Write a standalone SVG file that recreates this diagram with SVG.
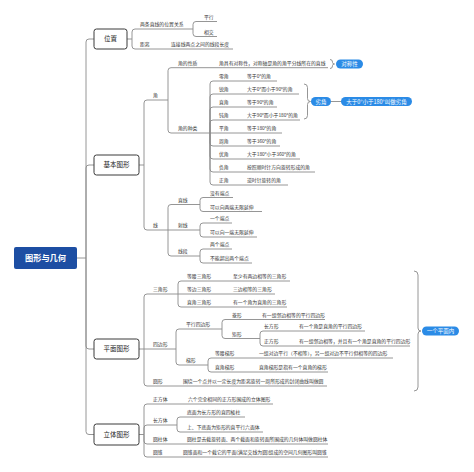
<svg xmlns="http://www.w3.org/2000/svg" width="474" height="472" viewBox="0 0 474 472">
<style>
.c{fill:none;stroke:#8a8a8a;stroke-width:0.9}
.t{font-family:"Noto Sans CJK SC",sans-serif;font-size:4.85px;fill:#333}
.b{fill:#fff;stroke:#3a3a3a;stroke-width:1}
.bt{font-family:"Noto Sans CJK SC",sans-serif;font-size:6.5px;fill:#222;text-anchor:middle}
.p{fill:#2b8be6}
.pt{font-family:"Noto Sans CJK SC",sans-serif;font-size:5.5px;fill:#fff;text-anchor:middle}
</style>
<rect width="474" height="472" fill="#fff"/>
<g id="connectors">
<path class="c" d="M77,258 H86 M86,258 V42 Q86,39 89,39 H94 M86,258 V168 Q86,165 89,165 H94 M86,258 V346 Q86,349 89,349 H94 M86,258 V431.5 Q86,434.5 89,434.5 H94"/>
<path class="c" d="M127,39 H132 M132,39 V32 Q132,29 135,29 H193 M132,39 V46 Q132,49 135,49 H233 M193,29 V24.5 Q193,21.5 196,21.5 H217 M193,29 V33.5 Q193,36.5 196,36.5 H217"/>
<path class="c" d="M139,165 H144 M144,165 V103 Q144,100 147,100 H168 M144,165 V227 Q144,230 147,230 H168 M168,100 V70.7 Q168,67.7 171,67.7 H328 M168,100 V130 Q168,133 171,133 H210"/>
<path class="c" d="M210,133 V84 Q210,81 213,81 H277 M210,133 V97 Q210,94 213,94 H299 M210,133 V110 Q210,107 213,107 H277 M210,133 V123 Q210,120 213,120 H300 M210,133 H282 M210,133 V143 Q210,146 213,146 H280 M210,133 V156 Q210,159 213,159 H300 M210,133 V169 Q210,172 213,172 H315 M210,133 V182 Q210,185 213,185 H288"/>
<path class="c" d="M168,230 V207.5 Q168,204.5 171,204.5 H200 M168,230 H200 M168,230 V253 Q168,256 171,256 H200 M200,204.5 V200.5 Q200,197.5 203,197.5 H233 M200,204.5 V208.5 Q200,211.5 203,211.5 H262 M200,230 V226 Q200,223 203,223 H232 M200,230 V234 Q200,237 203,237 H257 M200,256 V252 Q200,249 203,249 H232 M200,256 V260 Q200,263 203,263 H252"/>
<path class="c" d="M139,349 H144 M144,349 V297 Q144,294 147,294 H178 M144,349 H176 M144,349 V383 Q144,386 147,386 H327 M178,294 V284 Q178,281 181,281 H290 M178,294 H275 M178,294 V304 Q178,307 181,307 H287"/>
<path class="c" d="M176,349 V332 Q176,329 179,329 H222 M176,349 V362 Q176,365 179,365 H208 M222,329 V322.5 Q222,319.5 225,319.5 H325 M222,329 V335.5 Q222,338.5 225,338.5 H260 M260,338.5 V334 Q260,331 263,331 H365 M260,338.5 V343 Q260,346 263,346 H410 M208,365 V361 Q208,358 211,358 H393 M208,365 V369 Q208,372 211,372 H328"/>
<path class="c" d="M139,434.5 H144 M144,434.5 V407 Q144,404 147,404 H273 M144,434.5 V428 Q144,425 147,425 H177 M144,434.5 V441 Q144,444 147,444 H328 M144,434.5 V454 Q144,457 147,457 H328 M177,425 V420 Q177,417 180,417 H245 M177,425 V429 Q177,432 180,432 H263"/>
<path class="c" d="M330,59.5 Q332.5,59.5 332.5,62 V62.5 Q332.5,64 334.5,64 Q332.5,64 332.5,65.5 V66 Q332.5,68.5 330,68.5"/>
<path class="c" d="M304,84 Q307.5,84 307.5,87.5 V98.5 Q307.5,101.5 310.5,101.5 Q307.5,101.5 307.5,104.5 V115.5 Q307.5,119 304,119 M331,101.5 H341"/>
<path class="c" d="M414,271 Q418,271 418,275 V328 Q418,331 421,331 Q418,331 418,334 V387 Q418,391 414,391"/>
</g>
<g id="root"><rect x="14" y="247" width="63" height="22" rx="2" fill="#1d4ea3"/><text x="45.5" y="261" font-family="Noto Sans CJK SC,sans-serif" font-size="8.2" font-weight="bold" fill="#fff" text-anchor="middle">图形与几何</text></g>
<g id="n-weizhi"><rect class="b" x="94" y="29" width="33" height="20" rx="2.5"/><text class="bt" x="110.5" y="41.3">位置</text></g>
<g id="n-jiben"><rect class="b" x="94" y="155" width="45" height="20" rx="2.5"/><text class="bt" x="116.5" y="167.3">基本图形</text></g>
<g id="n-pingmian"><rect class="b" x="94" y="339" width="45" height="20" rx="2.5"/><text class="bt" x="116.5" y="351.3">平面图形</text></g>
<g id="n-liti"><rect class="b" x="94" y="424" width="45" height="21" rx="2.5"/><text class="bt" x="116.5" y="436.8">立体图形</text></g>
<g id="n-weizhi-sub" class="t">
<text x="140" y="26.4">两条直线的位置关系</text>
<text x="204" y="18.9">平行</text>
<text x="204" y="33.9">相交</text>
<text x="140" y="46.4">距离</text>
<text x="171" y="46.4">连接线两点之间的线段长度</text>
</g>
<g id="n-jiao" class="t">
<text x="153" y="97.4">角</text>
<text x="178" y="65.1">角的性质</text>
<text x="219" y="65.1">角具有对称性，对称轴是角的角平分线所在的直线</text>
<text x="178" y="130.4">角的种类</text>
<text x="219" y="78.4">零角</text><text x="247" y="78.4">等于0°的角</text>
<text x="219" y="91.4">锐角</text><text x="247" y="91.4">大于0°而小于90°的角</text>
<text x="219" y="104.4">直角</text><text x="247" y="104.4">等于90°的角</text>
<text x="219" y="117.4">钝角</text><text x="247" y="117.4">大于90°而小于180°的角</text>
<text x="219" y="130.4">平角</text><text x="247" y="130.4">等于180°的角</text>
<text x="219" y="143.4">周角</text><text x="247" y="143.4">等于360°的角</text>
<text x="219" y="156.4">优角</text><text x="247" y="156.4">大于180°小于360°的角</text>
<text x="219" y="169.4">负角</text><text x="247" y="169.4">按照顺时针方向旋转形成的角</text>
<text x="219" y="182.4">正角</text><text x="247" y="182.4">逆时针旋转的角</text>
</g>
<g id="n-duichen"><rect class="p" x="336" y="59.5" width="27" height="9" rx="4.5"/><text class="pt" x="349.5" y="66">对称性</text></g>
<g id="n-liejiao"><rect class="p" x="311" y="97" width="20" height="9" rx="4.5"/><text class="pt" x="321" y="103.5">劣角</text></g>
<g id="n-liejiao-def"><rect class="p" x="341" y="97" width="71" height="9" rx="4.5"/><text class="pt" x="376.5" y="103.5">大于0°小于180°叫做劣角</text></g>
<g id="n-xian" class="t">
<text x="153" y="227.4">线</text>
<text x="178" y="201.9">直线</text>
<text x="210" y="194.9">没有端点</text>
<text x="210" y="208.9">可以向两端无限延伸</text>
<text x="178" y="227.4">射线</text>
<text x="210" y="220.4">一个端点</text>
<text x="210" y="234.4">可以向一端无限延伸</text>
<text x="178" y="253.4">线段</text>
<text x="210" y="246.4">两个端点</text>
<text x="210" y="260.4">不能超出两个端点</text>
</g>
<g id="n-sanjiao" class="t">
<text x="153" y="291.4">三角形</text>
<text x="187" y="278.4">等腰三角形</text><text x="233" y="278.4">至少有两边相等的三角形</text>
<text x="187" y="291.4">等边三角形</text><text x="233" y="291.4">三边相等的三角形</text>
<text x="187" y="304.4">直角三角形</text><text x="233" y="304.4">有一个角为直角的三角形</text>
</g>
<g id="n-sibian" class="t">
<text x="153" y="346.4">四边形</text>
<text x="186" y="326.4">平行四边形</text>
<text x="232" y="316.9">菱形</text><text x="262" y="316.9">有一组邻边相等的平行四边形</text>
<text x="232" y="335.9">矩形</text>
<text x="264" y="328.4">长方形</text><text x="299" y="328.4">有一个角是直角的平行四边形</text>
<text x="264" y="343.4">正方形</text><text x="299" y="343.4">有一组邻边相等，并且有一个角是直角的平行四边形</text>
<text x="186" y="362.4">梯形</text>
<text x="215" y="355.4">等腰梯形</text><text x="259" y="355.4">一组对边平行（不相等），另一组对边不平行但相等的四边形</text>
<text x="215" y="369.4">直角梯形</text><text x="259" y="369.4">直角梯形是指有一个直角的梯形</text>
</g>
<g id="n-yuan" class="t">
<text x="153" y="383.4">圆形</text>
<text x="183" y="383.4">围绕一个点并以一定长度为距离旋转一周所形成的封闭曲线叫做圆</text>
</g>
<g id="n-pingmiannei"><rect class="p" x="422" y="326.5" width="37" height="9" rx="4.5"/><text class="pt" x="440.5" y="333">一个平面内</text></g>
<g id="n-liti-sub" class="t">
<text x="153" y="401.4">正方体</text><text x="188" y="401.4">六个完全相同的正方形围成的立体图形</text>
<text x="153" y="422.4">长方体</text>
<text x="187" y="414.4">底面为长方形的直四棱柱</text>
<text x="187" y="429.4">上、下底面为矩形的直平行六面体</text>
<text x="153" y="441.4">圆柱体</text><text x="187" y="441.4">圆柱是去截旋转面、两个截面和旋转面所围成的几何体叫做圆柱体</text>
<text x="153" y="454.4">圆锥</text><text x="183" y="454.4">圆锥面和一个截它的平面(满足交线为圆)组成的空间几何图形叫圆锥</text>
</g>
</svg>
